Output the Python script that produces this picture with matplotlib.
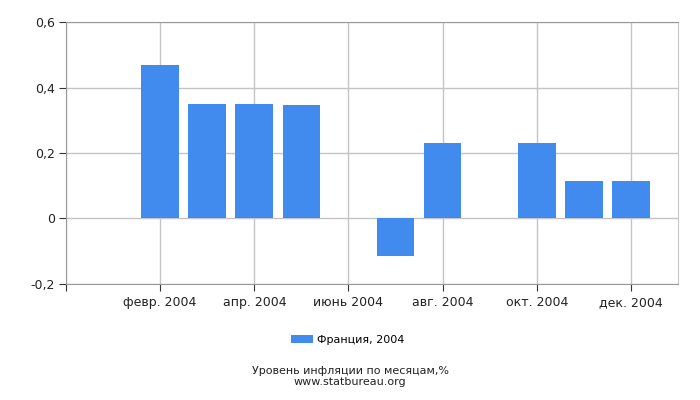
import matplotlib
matplotlib.use('Agg')
import matplotlib.pyplot as plt
from matplotlib.ticker import FuncFormatter

# France, monthly inflation 2004 (%)
months = list(range(12))
values = [0.0, 0.47, 0.35, 0.35, 0.347, 0.0, -0.115, 0.23, 0.0, 0.23, 0.113, 0.113]
tick_pos = [-1, 1, 3, 5, 7, 9, 11]
tick_labels = ['', 'февр. 2004', 'апр. 2004', 'июнь 2004', 'авг. 2004', 'окт. 2004', 'дек. 2004']
yticks = [-0.2, 0, 0.2, 0.4, 0.6]

bar_color = '#428bee'
grid_color = '#c4c4c4'

fig = plt.figure(figsize=(7, 4), dpi=100)
ax = fig.add_axes([0.0943, 0.291, 0.8743, 0.653])

ax.bar(months, values, width=0.8, color=bar_color, zorder=3, label='Франция, 2004')

ax.set_xlim(-1, 12)
ax.set_ylim(-0.2, 0.6)
ax.set_xticks(tick_pos)
ax.set_xticklabels(tick_labels)
ax.set_yticks(yticks)
ax.yaxis.set_major_formatter(FuncFormatter(lambda v, p: ('%g' % round(v, 1)).replace('.', ',')))

ax.grid(True, color=grid_color, linewidth=1, zorder=0)
ax.tick_params(axis='both', labelsize=9, length=5, color='#333333', labelcolor='#222222')
ax.tick_params(axis='x', pad=4)
ax.tick_params(axis='y', pad=3)

ax.spines['left'].set_color('#999999')
ax.spines['bottom'].set_color('#999999')
ax.spines['top'].set_color('#999999')
ax.spines['right'].set_color('#c8c8c8')

leg = fig.legend(loc='center', bbox_to_anchor=(0.497, 0.15), frameon=False, fontsize=8,
                 handlelength=2.0, handleheight=0.7, handletextpad=0.35)

fig.text(0.5, 0.072, 'Уровень инфляции по месяцам,%', ha='center', va='center', fontsize=8, color='#222222')
fig.text(0.5, 0.045, 'www.statbureau.org', ha='center', va='center', fontsize=8, color='#222222')

fig.savefig('out.png', dpi=100)
